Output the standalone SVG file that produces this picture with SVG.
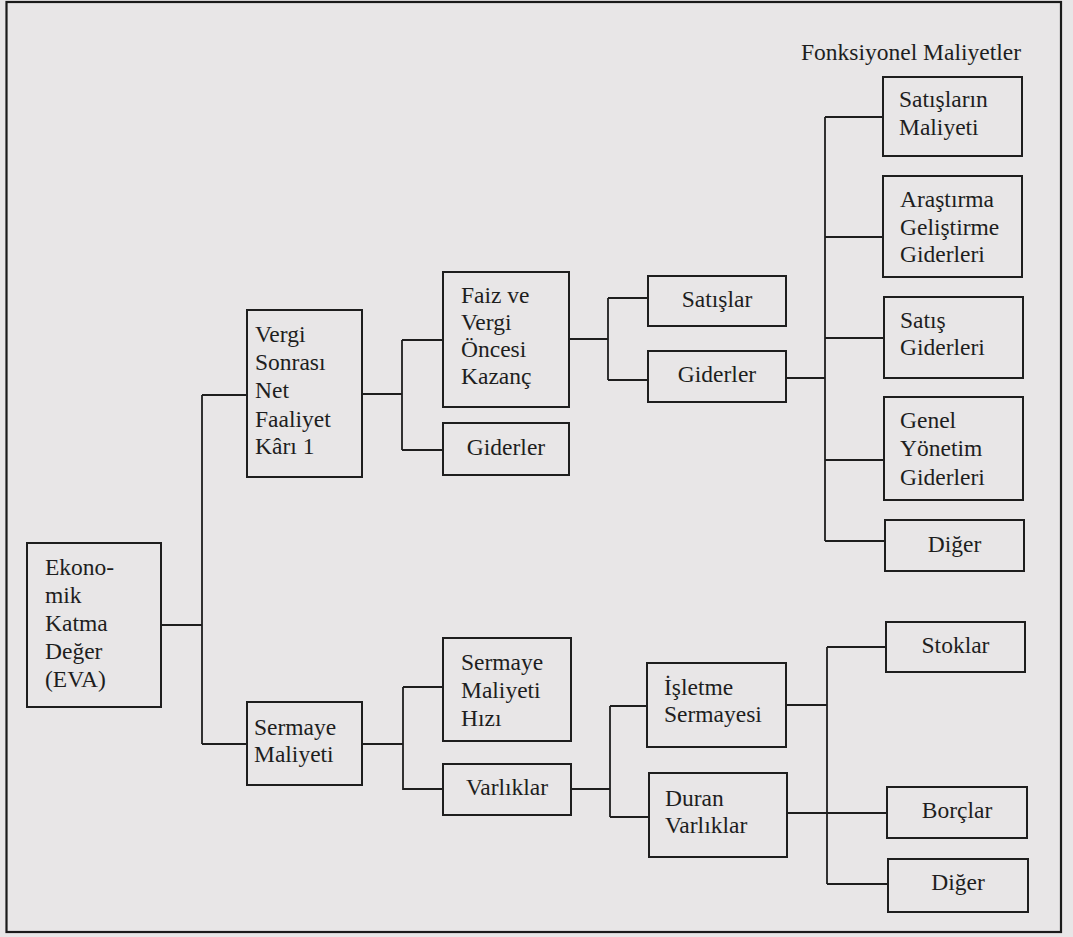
<svg xmlns="http://www.w3.org/2000/svg" width="1073" height="937" viewBox="0 0 1073 937">
<style>
.bg{fill:#e8e6e7}
.box{fill:#e8e6e7;stroke:#1e1e1e;stroke-width:2}
.frame{fill:none;stroke:#1a1a1a;stroke-width:2.2}
text{font-family:'Liberation Serif','Times New Roman',Times,'DejaVu Serif',serif;font-size:23.5px;fill:#1e1e1e}
.c{text-anchor:middle}
#connectors path{fill:none;stroke:#1e1e1e;stroke-width:1.8}
</style>
<rect class="bg" x="0" y="0" width="1073" height="937"/>
<rect class="frame" x="6.5" y="2" width="1054.5" height="930"/>
<g font-family="Liberation Serif, serif">
<text x="801" y="60">Fonksiyonel Maliyetler</text>
<g id="connectors">
<path d="M161,625 H202 M202,395 V744 M202,395 H247 M202,744 H247"/>
<path d="M362,394 H402 M402,340 V450 M402,340 H443 M402,450 H443"/>
<path d="M362,744 H403 M403,687 V790 M403,687 H443 M403,789 H443"/>
<path d="M569,339 H608 M608,298 V380 M608,298 H648 M608,380 H648"/>
<path d="M786,378 H825 M825,117 V541 M825,117 H883 M825,237 H883 M825,338 H884 M825,460 H884 M825,541 H885"/>
<path d="M571,789 H610 M610,706 V817 M610,706 H647 M610,817 H649"/>
<path d="M786,705 H827 M827,647 V884 M827,647 H886 M787,813 H887 M827,884 H888"/>
</g>
<g id="eva"><rect class="box" x="27" y="543" width="134" height="164"/>
<text x="45" y="575">Ekono-</text><text x="45" y="603">mik</text><text x="45" y="631">Katma</text><text x="45" y="659">Değer</text><text x="45" y="687">(EVA)</text></g>
<g id="nopat"><rect class="box" x="247" y="310" width="115" height="167"/>
<text x="255" y="342">Vergi</text><text x="255" y="370">Sonrası</text><text x="255" y="398">Net</text><text x="255" y="427">Faaliyet</text><text x="255" y="454">Kârı 1</text></g>
<g id="sermaye-maliyeti"><rect class="box" x="247" y="702" width="115" height="83"/>
<text x="254" y="735">Sermaye</text><text x="254" y="762">Maliyeti</text></g>
<g id="ebit"><rect class="box" x="443" y="272" width="126" height="135"/>
<text x="461" y="303">Faiz ve</text><text x="461" y="330">Vergi</text><text x="461" y="357">Öncesi</text><text x="461" y="384">Kazanç</text></g>
<g id="giderler-1"><rect class="box" x="443" y="423" width="126" height="52"/>
<text class="c" x="506" y="455">Giderler</text></g>
<g id="sermaye-maliyeti-hizi"><rect class="box" x="443" y="638" width="128" height="103"/>
<text x="461" y="670">Sermaye</text><text x="461" y="698">Maliyeti</text><text x="461" y="726">Hızı</text></g>
<g id="varliklar"><rect class="box" x="443" y="764" width="128" height="51"/>
<text class="c" x="507" y="795">Varlıklar</text></g>
<g id="satislar"><rect class="box" x="648" y="276" width="138" height="50"/>
<text class="c" x="717" y="307">Satışlar</text></g>
<g id="giderler-2"><rect class="box" x="648" y="351" width="138" height="51"/>
<text class="c" x="717" y="382">Giderler</text></g>
<g id="isletme-sermayesi"><rect class="box" x="647" y="663" width="139" height="84"/>
<text x="664" y="695">İşletme</text><text x="664" y="722">Sermayesi</text></g>
<g id="duran-varliklar"><rect class="box" x="649" y="773" width="138" height="84"/>
<text x="665" y="806">Duran</text><text x="665" y="833">Varlıklar</text></g>
<g id="satislarin-maliyeti"><rect class="box" x="883" y="77" width="139" height="79"/>
<text x="899" y="107">Satışların</text><text x="899" y="135">Maliyeti</text></g>
<g id="arge"><rect class="box" x="883" y="176" width="139" height="101"/>
<text x="900" y="207">Araştırma</text><text x="900" y="235">Geliştirme</text><text x="900" y="262">Giderleri</text></g>
<g id="satis-giderleri"><rect class="box" x="884" y="297" width="139" height="81"/>
<text x="900" y="328">Satış</text><text x="900" y="355">Giderleri</text></g>
<g id="genel-yonetim"><rect class="box" x="884" y="397" width="139" height="103"/>
<text x="900" y="428">Genel</text><text x="900" y="456">Yönetim</text><text x="900" y="485">Giderleri</text></g>
<g id="diger-1"><rect class="box" x="885" y="520" width="139" height="51"/>
<text class="c" x="954.5" y="552">Diğer</text></g>
<g id="stoklar"><rect class="box" x="886" y="622" width="139" height="50"/>
<text class="c" x="955.5" y="653">Stoklar</text></g>
<g id="borclar"><rect class="box" x="887" y="787" width="140" height="51"/>
<text class="c" x="957" y="818">Borçlar</text></g>
<g id="diger-2"><rect class="box" x="888" y="859" width="140" height="53"/>
<text class="c" x="958" y="890">Diğer</text></g>
</g>
</svg>
